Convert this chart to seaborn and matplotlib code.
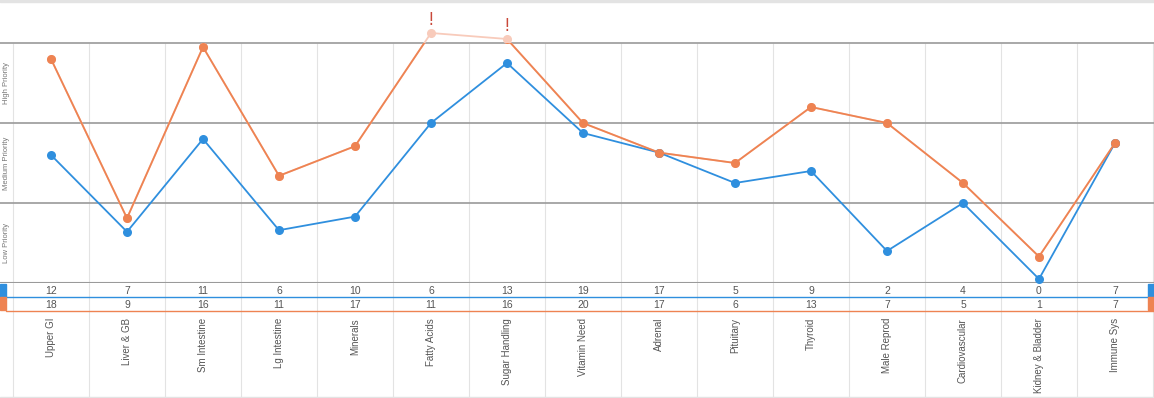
import matplotlib
matplotlib.use("Agg")
import matplotlib.pyplot as plt
import matplotlib.transforms as mtransforms
from matplotlib.patches import Rectangle
import pandas as pd
import seaborn as sns

categories = ["Upper GI", "Liver & GB", "Sm Intestine", "Lg Intestine", "Minerals",
              "Fatty Acids", "Sugar Handling", "Vitamin Need", "Adrenal", "Pituitary",
              "Thyroid", "Male Reprod", "Cardiovascular", "Kidney & Bladder", "Immune Sys"]
blue_counts = [12, 7, 11, 6, 10, 6, 13, 19, 17, 5, 9, 2, 4, 0, 7]
orange_counts = [18, 9, 16, 11, 17, 11, 16, 20, 17, 6, 13, 7, 5, 1, 7]
# plotted priority score: 0-1 low, 1-2 medium, 2-3 high
blue_score = [1.60, 0.64, 1.80, 0.66, 0.83, 2.00, 2.75, 1.875, 1.63, 1.25, 1.40, 0.40, 1.00, 0.05, 1.75]
orange_score = [2.80, 0.81, 2.95, 1.34, 1.71, 3.125, 3.05, 2.00, 1.63, 1.50, 2.20, 2.00, 1.25, 0.33, 1.75]
bands = ["Low Priority", "Medium Priority", "High Priority"]

BLUE = "#2f8fde"
ORANGE = "#ee8352"
PALE = "#f8cbbb"
GRID = "#e3e3e3"
LINE = "#9a9a9a"
TXT = "#555555"

W, H = 1154, 398
n = len(categories)
x = list(range(n))
xlim = (-0.5 - 13 / 76, n - 0.5 + 1 / 76)

sns.set_style("white")
plt.rcParams["font.family"] = ["Liberation Sans", "DejaVu Sans"]

fig = plt.figure(figsize=(W / 100, H / 100), dpi=100)
ax = fig.add_axes([0, 115 / H, 1, 283 / H])
tab = fig.add_axes([0, 0, 1, 115 / H])

for a in (ax, tab):
    a.set_xlim(*xlim)
    a.axis("off")

ax.set_ylim(0, 283 / 80)
tab.set_ylim(398, 283)

# column separators
for k in range(n + 1):
    ax.vlines(k - 0.5, 0, 3, color=GRID, lw=0.8, zorder=0)
    tab.axvline(k - 0.5, color=GRID, lw=0.8, zorder=0)

# band lines
for yv in [1, 2, 3]:
    ax.axhline(yv, color=LINE, lw=1.2, zorder=1)
ax.axhline(0, color=LINE, lw=1.5, zorder=1)

df = pd.DataFrame({
    "x": x * 2,
    "score": blue_score + orange_score,
    "series": ["blue"] * n + ["orange"] * n,
})

# pale overflow part of orange series
ax.plot(x, orange_score, color=PALE, lw=1.3, marker="o", ms=5.5, zorder=2)

sns.lineplot(data=df, x="x", y="score", hue="series",
             palette={"blue": BLUE, "orange": ORANGE}, marker="o",
             markersize=6.5, markeredgewidth=0, linewidth=1.3,
             legend=False, ax=ax, zorder=3)
ax.axis("off")

clip = Rectangle((xlim[0], 0), xlim[1] - xlim[0], 3, transform=ax.transData)
for line in ax.get_lines()[-2:]:
    line.set_clip_path(clip)

for i, v in enumerate(orange_score):
    if v > 3:
        ax.annotate("!", (i, v), xytext=(0, 3), textcoords="offset points",
                    ha="center", va="bottom", color="#c9483a", fontsize=12,
                    family="DejaVu Sans")

# band labels
trans = mtransforms.blended_transform_factory(fig.transFigure, ax.transData)
for j, lab in enumerate(bands):
    ax.text(7 / W, j + 0.5, lab, transform=trans, rotation=90,
            ha="center", va="center", fontsize=5.5, color="#777777")

# table rows
for i in range(n):
    tab.text(i, 290.5, str(blue_counts[i]), ha="center", va="center", fontsize=7.5, color=TXT)
    tab.text(i, 304.5, str(orange_counts[i]), ha="center", va="center", fontsize=7.5, color=TXT)
    tab.text(i, 318, categories[i], rotation=90, ha="center", va="top", fontsize=7, color=TXT)

tab.plot([xlim[0] + 6 / 76, xlim[1]], [297, 297], color=BLUE, lw=1.0)
tab.plot([xlim[0] + 6 / 76, xlim[1]], [311, 311], color=ORANGE, lw=1.0)
tab.plot(xlim, [396.5, 396.5], color=GRID, lw=1.0)

# colour keys at both ends
for (y0, col) in [(284, BLUE), (297, ORANGE)]:
    for x0 in (0, 1148):
        fig.patches.append(Rectangle((x0 / W, 1 - (y0 + 13) / H), 6 / W, 13 / H,
                                     transform=fig.transFigure, color=col))

fig.patches.append(Rectangle((0, 1 - 1.5 / H), 1, 1.5 / H, transform=fig.transFigure, color=GRID))

fig.savefig("out.png", dpi=100)
